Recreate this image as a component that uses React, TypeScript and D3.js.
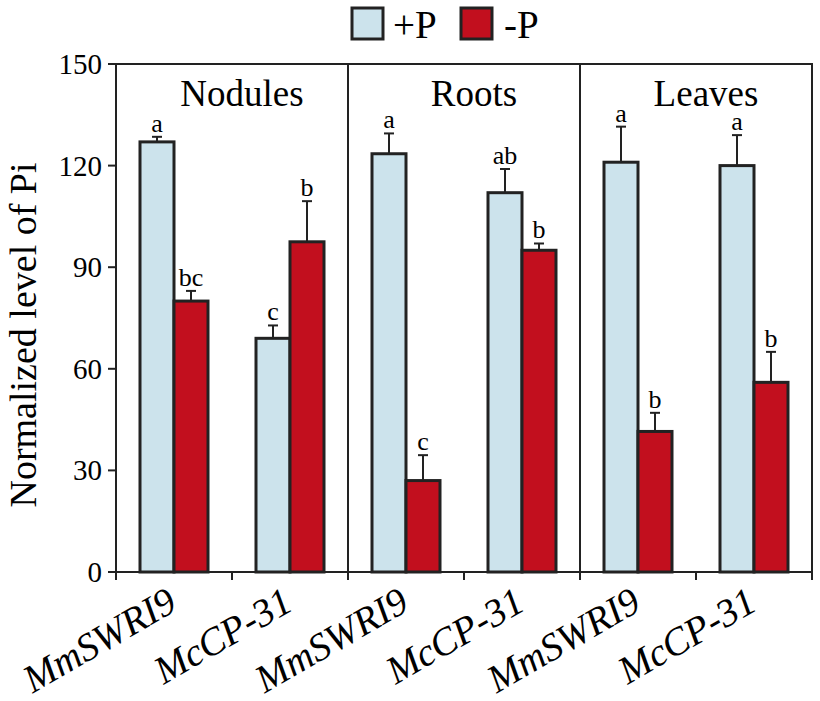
import React from "react";
import * as d3 from "d3";

const tissues = ["Nodules", "Roots", "Leaves"];
const lines = ["MmSWRI9", "McCP-31"];
// order: tissue x line
const plusP = [127, 69, 123.5, 112, 121, 120];
const plusPErr = [1.5, 3.8, 6, 7, 10.5, 9];
const minusP = [80, 97.5, 27, 95, 41.5, 56];
const minusPErr = [3, 12, 7.5, 2, 5.5, 9];
const plusPLetters = ["a", "c", "a", "ab", "a", "a"];
const minusPLetters = ["bc", "b", "c", "b", "b", "b"];
const yTicks = [0, 30, 60, 90, 120, 150];

const W = 820;
const H = 701;
const M = { left: 116, right: 812, top: 64, bottom: 572 };
const LIGHT = "#cce3ec";
const RED = "#c20f1e";
const EDGE = "#222";
const FONT = "'Liberation Serif', 'Times New Roman', serif";

export default function App() {
  const y = d3.scaleLinear().domain([0, 150]).range([M.bottom, M.top]);
  const panel = d3.scaleBand().domain(tissues).range([M.left, M.right]).paddingInner(0).paddingOuter(0);
  const pw = panel.bandwidth();
  const group = d3.scaleBand().domain(lines).range([0, pw]);
  const barW = 34;

  const items = tissues.flatMap((t, ti) =>
    lines.map((l, li) => {
      const i = ti * 2 + li;
      const cx = (panel(t) as number) + (group(l) as number) + group.bandwidth() / 2;
      return { t, l, i, cx };
    })
  );

  const bottomTicks = d3.range(0, 7).map((k) => M.left + (k * (M.right - M.left)) / 6);

  const errBar = (cx: number, v: number, e: number, letter: string, key: string) => {
    const top = y(v + e);
    return (
      <g key={key}>
        <line x1={cx} x2={cx} y1={y(v)} y2={top} stroke={EDGE} strokeWidth={2} />
        <line x1={cx - 5} x2={cx + 5} y1={top} y2={top} stroke={EDGE} strokeWidth={2} />
        <text x={cx} y={top - 5} textAnchor="middle" fontSize={26} fontFamily={FONT} fill="#000">
          {letter}
        </text>
      </g>
    );
  };

  return (
    <svg width={W} height={H} style={{ position: "absolute", left: 0, top: 0, background: "#fff" }}>
      {/* legend */}
      <rect x={352} y={8} width={31} height={31} fill={LIGHT} stroke={EDGE} strokeWidth={3} />
      <text x={393} y={38} fontSize={39} fontFamily={FONT}>+P</text>
      <rect x={461} y={8} width={31} height={31} fill={RED} stroke={EDGE} strokeWidth={3} />
      <text x={504} y={38} fontSize={39} fontFamily={FONT}>-P</text>

      {/* bars */}
      {items.map(({ i, cx }) => (
        <g key={"b" + i}>
          <rect x={cx - barW} y={y(plusP[i])} width={barW} height={y(0) - y(plusP[i])} fill={LIGHT} stroke={EDGE} strokeWidth={3} />
          <rect x={cx} y={y(minusP[i])} width={barW} height={y(0) - y(minusP[i])} fill={RED} stroke={EDGE} strokeWidth={3} />
        </g>
      ))}
      {items.map(({ i, cx }) => (
        <g key={"e" + i}>
          {errBar(cx - barW / 2, plusP[i], plusPErr[i], plusPLetters[i], "p" + i)}
          {errBar(cx + barW / 2, minusP[i], minusPErr[i], minusPLetters[i], "m" + i)}
        </g>
      ))}

      {/* frame */}
      <rect x={M.left} y={M.top} width={M.right - M.left} height={M.bottom - M.top} fill="none" stroke={EDGE} strokeWidth={2} />
      {tissues.slice(1).map((t) => (
        <line key={t} x1={panel(t) as number} x2={panel(t) as number} y1={M.top} y2={M.bottom} stroke={EDGE} strokeWidth={2} />
      ))}

      {/* panel titles */}
      {tissues.map((t) => (
        <text key={t} x={(panel(t) as number) + pw / 2 + 10} y={106} textAnchor="middle" fontSize={37} fontFamily={FONT}>
          {t}
        </text>
      ))}

      {/* y axis */}
      {yTicks.map((v) => (
        <g key={v}>
          <line x1={M.left - 8} x2={M.left} y1={y(v)} y2={y(v)} stroke={EDGE} strokeWidth={2} />
          <text x={M.left - 14} y={y(v) + 10} textAnchor="end" fontSize={29} fontFamily={FONT}>
            {v}
          </text>
        </g>
      ))}
      <text
        transform={`translate(36, 335) rotate(-90)`}
        textAnchor="middle"
        fontSize={38}
        fontFamily={FONT}
      >
        Normalized level of Pi
      </text>

      {/* x axis */}
      {bottomTicks.map((x, k) => (
        <line key={k} x1={x} x2={x} y1={M.bottom} y2={M.bottom + 8} stroke={EDGE} strokeWidth={2} />
      ))}
      {items.map(({ i, l, cx }) => (
        <text
          key={"x" + i}
          transform={`translate(${cx + 5}, ${M.bottom + 37}) rotate(-30)`}
          textAnchor="end"
          fontSize={39}
          fontFamily={FONT}
          fontStyle="italic"
        >
          {l}
        </text>
      ))}
    </svg>
  );
}
